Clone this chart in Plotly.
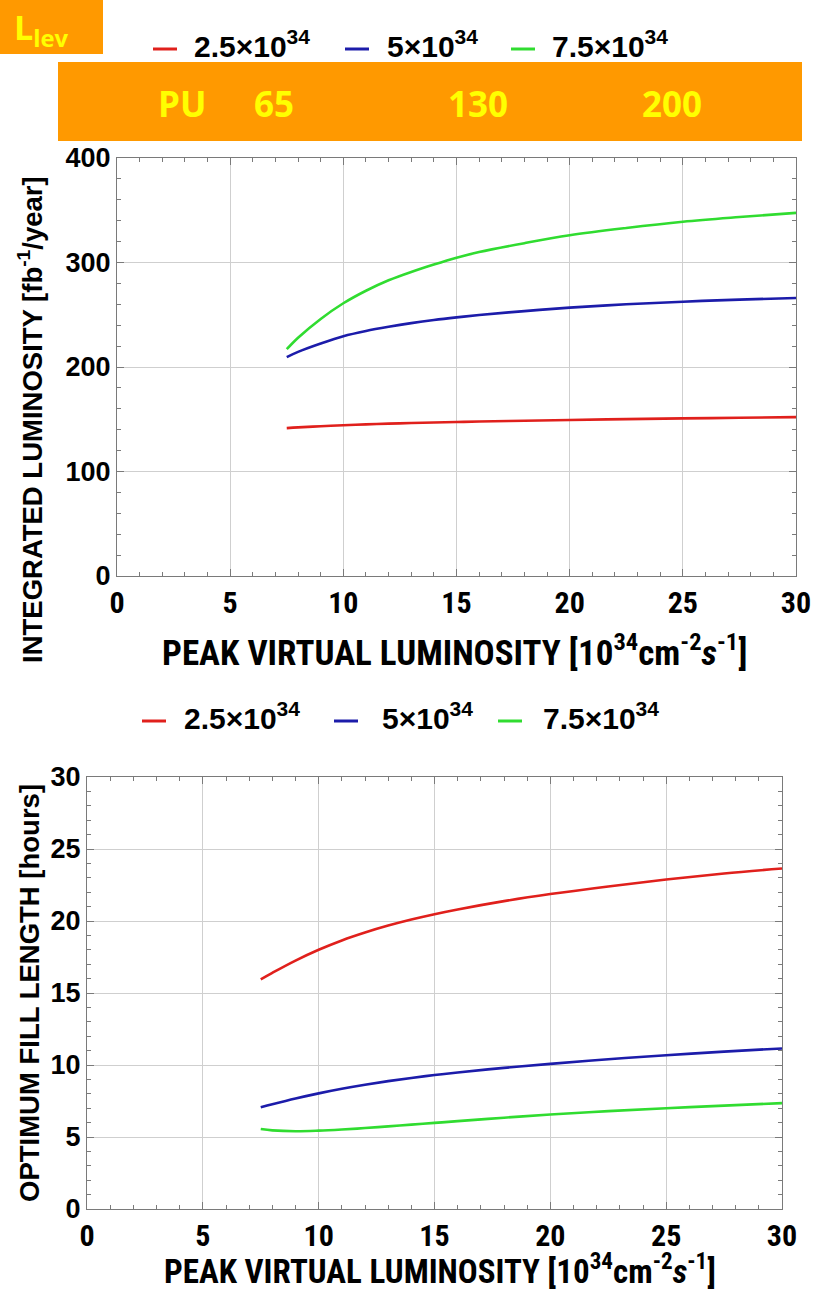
import plotly.graph_objects as go

# Peak virtual luminosity [10^34 cm^-2 s^-1]
peak_lumi = [7.5, 8, 9, 10, 11, 12, 13, 14, 15, 16, 18, 20, 22.5, 25, 27.5, 30]

# Levelled luminosity series
series_names = ["2.5×10<sup>34</sup>", "5×10<sup>34</sup>", "7.5×10<sup>34</sup>"]
series_colors = ["#e0201c", "#1c1caa", "#30dc30"]

# Integrated luminosity [fb^-1/year]
int_lumi_25 = [141.5, 142.2, 143.3, 144.3, 145.1, 145.8, 146.4, 146.9, 147.4, 147.8, 148.6, 149.3, 150.1, 150.8, 151.4, 152.0]
int_lumi_50 = [209.5, 214.5, 222.5, 229.5, 234.5, 238.5, 242, 245, 247.5, 249.7, 253.5, 256.8, 260, 262.5, 264.5, 266]
int_lumi_75 = [217, 228, 246, 261, 273, 283, 291, 298, 304.5, 310, 318.5, 326, 333, 339, 343.5, 347.5]

# Optimum fill length [hours]
fill_25 = [15.95, 16.4, 17.25, 18.0, 18.65, 19.2, 19.68, 20.1, 20.47, 20.8, 21.38, 21.87, 22.4, 22.88, 23.3, 23.65]
fill_50 = [7.06, 7.27, 7.67, 8.03, 8.35, 8.63, 8.88, 9.1, 9.3, 9.48, 9.8, 10.08, 10.4, 10.68, 10.93, 11.15]
fill_75 = [5.55, 5.46, 5.4, 5.44, 5.52, 5.62, 5.74, 5.86, 5.98, 6.1, 6.34, 6.56, 6.8, 7.0, 7.18, 7.35]

# Pile-up labels in the banner
pu_labels = ["PU", "65", "130", "200"]
pu_label_x = [182, 274, 478, 672]

W, H = 822, 1295
COND = "Roboto Condensed, Liberation Sans Narrow, sans-serif"
WIDE = "Liberation Sans, Arial, sans-serif"
HUMAN = "Open Sans, sans-serif"
AXIS_GREY = "#7a7a7a"


def px(x):
    return x / W


def py(y):
    return 1 - y / H


fig = go.Figure()

top = [int_lumi_25, int_lumi_50, int_lumi_75]
bottom = [fill_25, fill_50, fill_75]

for name, col, ys in zip(series_names, series_colors, top):
    fig.add_trace(go.Scatter(x=peak_lumi, y=ys, mode="lines", name=name, showlegend=False,
                             line=dict(color=col, width=2.6, shape="spline", smoothing=1.0),
                             xaxis="x", yaxis="y"))
for name, col, ys in zip(series_names, series_colors, bottom):
    fig.add_trace(go.Scatter(x=peak_lumi, y=ys, mode="lines", name=name, showlegend=False,
                             line=dict(color=col, width=2.6, shape="spline", smoothing=1.0),
                             xaxis="x2", yaxis="y2"))

axis_common = dict(
    showline=True, linecolor=AXIS_GREY, linewidth=1.2, mirror="allticks",
    showgrid=True, gridcolor="#cfcfcf", gridwidth=1,
    ticks="inside", ticklen=7, tickcolor=AXIS_GREY, zeroline=False,
)
xtick_font = dict(family=COND, size=30, color="black", weight="bold")
ytick_font = dict(family=WIDE, size=27, color="black", weight="bold")


def minor(step):
    return dict(dtick=step, ticks="inside", ticklen=4, tickcolor=AXIS_GREY, showgrid=False)


fig.update_layout(
    width=W, height=H,
    margin=dict(l=0, r=0, t=0, b=0, autoexpand=False),
    paper_bgcolor="white", plot_bgcolor="white",
    showlegend=False,
    xaxis=dict(**axis_common, domain=[px(117), px(796)], range=[0, 30], dtick=5,
               anchor="y", tickfont=xtick_font, minor=minor(1)),
    yaxis=dict(**axis_common, domain=[py(576), py(158)], range=[0, 400], dtick=100,
               anchor="x", tickfont=ytick_font, minor=minor(20)),
    xaxis2=dict(**axis_common, domain=[px(87), px(782)], range=[0, 30], dtick=5,
                anchor="y2", tickfont=xtick_font, minor=minor(1)),
    yaxis2=dict(**axis_common, domain=[py(1209), py(777)], range=[0, 30], dtick=5,
                anchor="x2", tickfont=ytick_font, minor=minor(1)),
)

# Orange banners
orange = "#ff9900"
fig.add_shape(type="rect", xref="paper", yref="paper",
              x0=0, x1=px(103), y0=py(54), y1=py(0),
              fillcolor=orange, line=dict(width=0), layer="above")
fig.add_shape(type="rect", xref="paper", yref="paper",
              x0=px(58), x1=px(802), y0=py(141), y1=py(62),
              fillcolor=orange, line=dict(width=0), layer="above")

annotations = [
    dict(text="<b>L<sub>lev</sub></b>", x=px(12), y=py(29), xanchor="left", yanchor="middle",
         font=dict(family=HUMAN, size=34, color="#ffff00")),
    dict(text="<b>INTEGRATED LUMINOSITY [fb<sup>-1</sup>/year]</b>", x=px(30), y=py(420),
         textangle=-90, xanchor="center", yanchor="middle",
         font=dict(family=WIDE, size=27.5, color="black")),
    dict(text="<b>PEAK VIRTUAL LUMINOSITY [10<sup>34</sup>cm<sup>-2</sup><i>s</i><sup>-1</sup>]</b>",
         x=px(454), y=py(650), xanchor="center", yanchor="middle",
         font=dict(family=COND, size=35, color="black")),
    dict(text="<b>OPTIMUM FILL LENGTH [hours]</b>", x=px(30), y=py(993),
         textangle=-90, xanchor="center", yanchor="middle",
         font=dict(family=WIDE, size=27.5, color="black")),
    dict(text="<b>PEAK VIRTUAL LUMINOSITY [10<sup>34</sup>cm<sup>-2</sup><i>s</i><sup>-1</sup>]</b>",
         x=px(440), y=py(1293), xanchor="center", yanchor="bottom",
         font=dict(family=COND, size=33, color="black")),
]
for lbl, xc in zip(pu_labels, pu_label_x):
    annotations.append(dict(text="<b>" + lbl + "</b>", x=px(xc), y=py(103),
                            xanchor="center", yanchor="middle",
                            font=dict(family=HUMAN, size=35, color="#ffff00")))

# Legends above each panel: short coloured dash followed by the series label
legend_rows = [
    dict(dash_y=49, text_y=44, dashes=[(153, 177), (345, 369), (511, 535)], text_x=[192, 385, 550]),
    dict(dash_y=721, text_y=716, dashes=[(142, 166), (334, 358), (498, 522)], text_x=[182, 380, 541]),
]
for row in legend_rows:
    for (d0, d1), tx, name, col in zip(row["dashes"], row["text_x"], series_names, series_colors):
        fig.add_shape(type="line", xref="paper", yref="paper",
                      x0=px(d0), x1=px(d1), y0=py(row["dash_y"]), y1=py(row["dash_y"]),
                      line=dict(color=col, width=3))
        annotations.append(dict(text="<b>" + name + "</b>", x=px(tx), y=py(row["text_y"]),
                                xanchor="left", yanchor="middle",
                                font=dict(family=WIDE, size=30, color="black")))

for a in annotations:
    a.update(xref="paper", yref="paper", showarrow=False)
fig.update_layout(annotations=annotations)

fig.write_html("out.html")
